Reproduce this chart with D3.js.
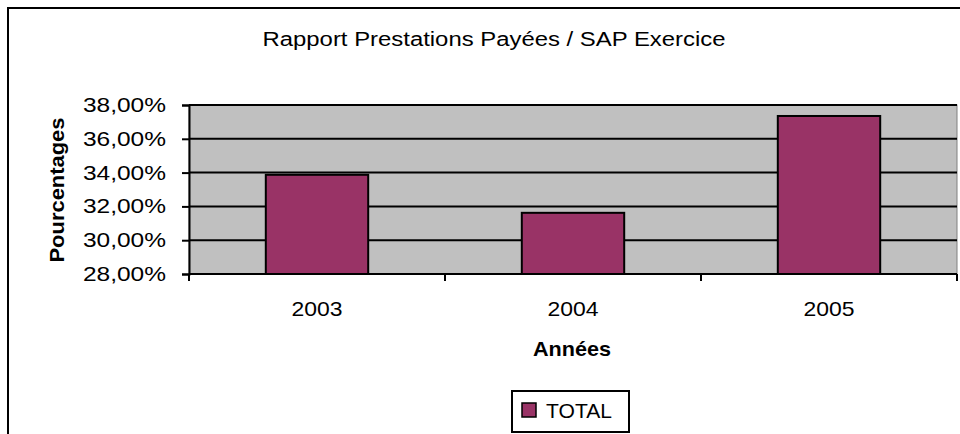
<!DOCTYPE html>
<html>
<head>
<meta charset="utf-8">
<script src="https://d3js.org/d3.v7.min.js"></script>
<style>
  body { margin: 0; background: #fff; }
  svg { display: block; font-family: "Liberation Sans", Arial, sans-serif; }
</style>
</head>
<body>
<svg id="chart"></svg>
<script>
// chart data
const years = ["2003", "2004", "2005"];
const totals = [0.3387, 0.3162, 0.3735];
const yTicks = [0.28, 0.30, 0.32, 0.34, 0.36, 0.38];

const width = 960, height = 434;
const margin = { top: 105, right: 3, bottom: 160, left: 189 };

const svg = d3.select("#chart")
    .attr("width", width)
    .attr("height", height);

// outer chart frame (cropped on the right and bottom)
svg.append("rect")
    .attr("x", 8).attr("y", 8)
    .attr("width", 1000).attr("height", 500)
    .attr("fill", "#fff")
    .attr("stroke", "#000")
    .attr("stroke-width", 2);

const x = d3.scaleBand()
    .domain(years)
    .range([margin.left, width - margin.right])
    .paddingInner(0.6)
    .paddingOuter(0.3);

const xGroup = d3.scaleBand()
    .domain(years)
    .range([margin.left, width - margin.right]);

const y = d3.scaleLinear()
    .domain([0.28, 0.38])
    .range([height - margin.bottom, margin.top]);

const fmt = d => d3.format(".2f")(d * 100).replace(".", ",") + "%";

// plot background
svg.append("rect")
    .attr("x", margin.left)
    .attr("y", margin.top)
    .attr("width", width - margin.right - margin.left)
    .attr("height", y(0.28) - y(0.38))
    .attr("fill", "#c0c0c0")
    .attr("stroke", "#808080")
    .attr("stroke-width", 1);

// gridlines
svg.append("g")
    .selectAll("line")
    .data(yTicks.slice(1))
    .enter().append("line")
    .attr("x1", margin.left)
    .attr("x2", width - margin.right)
    .attr("y1", d => y(d))
    .attr("y2", d => y(d))
    .attr("stroke", "#000")
    .attr("stroke-width", 2);

// bars
svg.append("g")
    .selectAll("rect")
    .data(years)
    .enter().append("rect")
    .attr("x", d => x(d))
    .attr("y", (d, i) => y(totals[i]))
    .attr("width", x.bandwidth())
    .attr("height", (d, i) => y(0.28) - y(totals[i]))
    .attr("fill", "#993366")
    .attr("stroke", "#000")
    .attr("stroke-width", 2);

// y axis
const yAxis = svg.append("g")
    .attr("transform", `translate(${margin.left},0)`)
    .call(d3.axisLeft(y).tickValues(yTicks).tickFormat(fmt).tickSize(7).tickPadding(16));
yAxis.select(".domain").attr("stroke", "#000").attr("stroke-width", 2);
yAxis.selectAll(".tick line").attr("stroke", "#000").attr("stroke-width", 2);
yAxis.selectAll("text")
    .attr("font-size", 20)
    .attr("fill", "#000")
    .attr("textLength", 83)
    .attr("lengthAdjust", "spacingAndGlyphs");

// x axis: ticks at category boundaries
const xAxisG = svg.append("g")
    .attr("transform", `translate(0,${y(0.28)})`);
xAxisG.append("line")
    .attr("x1", margin.left).attr("x2", width - margin.right)
    .attr("stroke", "#000").attr("stroke-width", 2);
const bounds = years.map(d => xGroup(d)).concat([xGroup(years[years.length - 1]) + xGroup.bandwidth()]);
xAxisG.selectAll("line.tk")
    .data(bounds)
    .enter().append("line")
    .attr("class", "tk")
    .attr("x1", d => d).attr("x2", d => d)
    .attr("y1", 0).attr("y2", 7)
    .attr("stroke", "#000").attr("stroke-width", 2);
xAxisG.selectAll("text")
    .data(years)
    .enter().append("text")
    .attr("x", d => xGroup(d) + xGroup.bandwidth() / 2)
    .attr("y", 42)
    .attr("text-anchor", "middle")
    .attr("font-size", 21)
    .attr("textLength", 51)
    .attr("lengthAdjust", "spacingAndGlyphs")
    .text(d => d);

// titles
svg.append("text")
    .attr("x", 494).attr("y", 46)
    .attr("text-anchor", "middle")
    .attr("font-size", 20)
    .attr("textLength", 463)
    .attr("lengthAdjust", "spacingAndGlyphs")
    .text("Rapport Prestations Payées / SAP Exercice");

svg.append("text")
    .attr("x", 572).attr("y", 356)
    .attr("text-anchor", "middle")
    .attr("font-size", 21)
    .attr("font-weight", "bold")
    .attr("textLength", 78)
    .attr("lengthAdjust", "spacingAndGlyphs")
    .text("Années");

svg.append("text")
    .attr("transform", "translate(64,190) rotate(-90)")
    .attr("text-anchor", "middle")
    .attr("font-size", 20)
    .attr("font-weight", "bold")
    .attr("textLength", 145)
    .attr("lengthAdjust", "spacingAndGlyphs")
    .text("Pourcentages");

// legend
const legend = svg.append("g");
legend.append("rect")
    .attr("x", 512).attr("y", 391)
    .attr("width", 117).attr("height", 41)
    .attr("fill", "#fff")
    .attr("stroke", "#000")
    .attr("stroke-width", 2);
legend.append("rect")
    .attr("x", 522).attr("y", 403)
    .attr("width", 14).attr("height", 14)
    .attr("fill", "#993366")
    .attr("stroke", "#000")
    .attr("stroke-width", 1.5);
legend.append("text")
    .attr("x", 546).attr("y", 418)
    .attr("font-size", 20)
    .attr("textLength", 66)
    .attr("lengthAdjust", "spacingAndGlyphs")
    .text("TOTAL");
</script>
</body>
</html>
